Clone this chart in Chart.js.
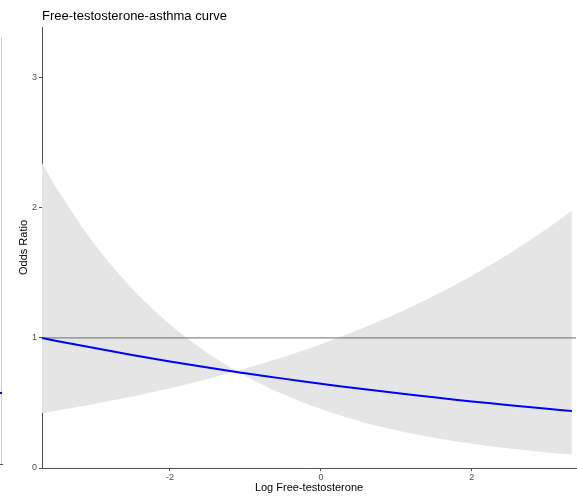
<!DOCTYPE html>
<html>
<head>
<meta charset="utf-8">
<script src="https://cdn.jsdelivr.net/npm/chart.js@4"></script>
<style>
  html, body { margin: 0; padding: 0; background: #fff; }
  #wrap { position: relative; width: 577px; height: 497px; }
  #edge { position: absolute; left: 1px; top: 37px; width: 1px; height: 427px; background: #d0d0d0; }
  #edgeTick { position: absolute; left: 0px; top: 464px; width: 3px; height: 1px; background: #555; }
  #edgeBlue { position: absolute; left: 0px; top: 392px; width: 2px; height: 2px; background: #0000ff; }
</style>
</head>
<body>
<div id="wrap">
  <canvas id="c" width="577" height="497"></canvas>
  <div id="edge"></div><div id="edgeTick"></div><div id="edgeBlue"></div>
</div>
<script>
// ---- data ----
const chartTitle = "Free-testosterone-asthma curve";
const xLabel = "Log Free-testosterone";
const yLabel = "Odds Ratio";
const logFT = [-3.695, -3.5, -3, -2.5, -2, -1.5, -1.117, -1, -0.5, 0, 0.5, 1, 1.5, 2, 2.5, 3, 3.325];
const oddsRatio = [1.000, 0.977, 0.922, 0.869, 0.819, 0.773, 0.738, 0.728, 0.687, 0.648, 0.611, 0.576, 0.543, 0.512, 0.483, 0.455, 0.438];
const bandEdgeA = [2.344, 2.149, 1.721, 1.377, 1.103, 0.883, 0.745, 0.707, 0.566, 0.453, 0.362, 0.290, 0.232, 0.186, 0.149, 0.119, 0.103];
const bandEdgeB = [0.422, 0.441, 0.492, 0.549, 0.613, 0.685, 0.745, 0.764, 0.853, 0.952, 1.063, 1.186, 1.324, 1.478, 1.650, 1.842, 1.978];
const refLineX = [-3.695, 3.38];
const refLineY = [1, 1];
const xTicks = [-2, 0, 2];
const yTicks = [0, 1, 2, 3];
const xRange = [-3.695, 3.38];
const yRange = [0, 3.39];

const pts = (xs, ys) => xs.map((x, i) => ({x: x, y: ys[i]}));

const titlePlugin = {
  id: 'leftTitle',
  afterDraw(chart) {
    const ctx = chart.ctx;
    ctx.save();
    ctx.font = '13px "Liberation Sans", Arial, sans-serif';
    ctx.fillStyle = '#000';
    ctx.textBaseline = 'alphabetic';
    ctx.textAlign = 'left';
    ctx.fillText(chartTitle, chart.chartArea.left, 20);
    ctx.restore();
  }
};

new Chart(document.getElementById('c'), {
  type: 'line',
  data: {
    datasets: [
      { data: pts(logFT, oddsRatio), borderColor: '#0000ff', borderWidth: 2, pointRadius: 0, fill: false, order: 0, tension: 0.3 },
      { data: pts(refLineX, refLineY), borderColor: '#6e6e6e', borderWidth: 1, pointRadius: 0, fill: false, order: 1 },
      { data: pts(logFT, bandEdgeA), borderWidth: 0, borderColor: 'rgba(0,0,0,0)', backgroundColor: 'rgb(229,229,229)', pointRadius: 0, fill: '+1', order: 3, tension: 0.3 },
      { data: pts(logFT, bandEdgeB), borderWidth: 0, borderColor: 'rgba(0,0,0,0)', pointRadius: 0, fill: false, order: 2, tension: 0.3 }
    ]
  },
  options: {
    responsive: false,
    animation: false,
    events: [],
    layout: { padding: { top: 27, right: 1, left: 0, bottom: 0 } },
    plugins: { legend: { display: false }, tooltip: { enabled: false }, title: { display: false } },
    scales: {
      x: {
        type: 'linear',
        min: xRange[0], max: xRange[1],
        afterBuildTicks: s => { s.ticks = xTicks.map(v => ({value: v})); },
        afterFit: s => { s.height = 29; },
        border: { display: true, color: '#505050', width: 1 },
        grid: { display: true, drawOnChartArea: false, drawTicks: true, tickLength: 3, color: '#505050' },
        ticks: { color: '#4d4d4d', font: { size: 9, family: '"Liberation Sans", Arial, sans-serif' }, padding: 1, maxRotation: 0 },
        title: { display: true, text: xLabel, color: '#000', font: { size: 11, family: '"Liberation Sans", Arial, sans-serif' }, padding: { top: 0, bottom: 2 } }
      },
      y: {
        type: 'linear',
        min: yRange[0], max: yRange[1],
        afterBuildTicks: s => { s.ticks = yTicks.map(v => ({value: v})); },
        afterFit: s => { s.width = 42; },
        border: { display: true, color: '#505050', width: 1 },
        grid: { display: true, drawOnChartArea: false, drawTicks: true, tickLength: 3, color: '#505050' },
        ticks: { color: '#4d4d4d', font: { size: 9, family: '"Liberation Sans", Arial, sans-serif' }, padding: 2 },
        title: { display: true, text: yLabel, color: '#000', font: { size: 11, family: '"Liberation Sans", Arial, sans-serif' }, padding: { top: 17, bottom: 0 } }
      }
    }
  },
  plugins: [titlePlugin]
});
</script>
</body>
</html>
